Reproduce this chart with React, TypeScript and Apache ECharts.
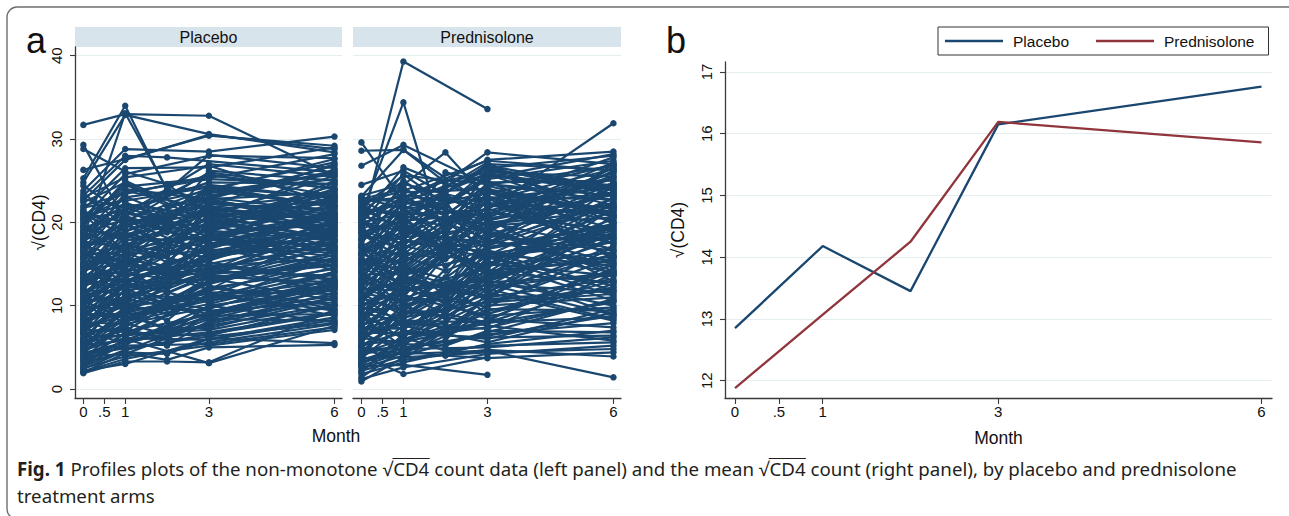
import React, { useEffect, useRef } from "react";
import * as echarts from "echarts";

// Visit months and axis ticks
const months = [0, 1, 2, 3, 6];
const monthTicks = [0, 0.5, 1, 3, 6];
const profileTicks = [0, 10, 20, 30, 40];
const meanTicks = [12, 13, 14, 15, 16, 17];
const armNames = ["Placebo", "Prednisolone"];

// Individual sqrt(CD4) profiles: values at months 0, 1, 2, 3, 6 (null = missed visit)
const placeboProfiles: (number | null)[][] = [
  [31.7, 33.0, null, 32.8, 25.6],
  [29.3, 20.2, null, 24.1, 22.0],
  [28.8, 26.1, 24.6, 21.0, 19.4],
  [26.3, 27.6, null, 30.4, 29.2],
  [25.3, 34.0, 23.8, 28.1, 26.5],
  [24.8, 32.9, null, 30.6, 28.4],
  [23.8, 28.8, null, 28.5, 30.3],
  [23.2, 28.0, 27.8, null, 26.0],
  [22.6, 27.5, null, 30.5, 28.8],
  [21.5, 26.5, null, 26.6, 29.0],
  [20.5, 25.8, null, 28.0, 27.7],
  [19.8, 24.3, null, 25.3, 28.2],
  [22.0, 23.4, 24.5, 25.6, 24.1],
  [18.2, 33.1, 24.0, 22.4, 21.0],
  [24.4, 21.0, null, 27.0, 25.5],
  [23.5, 19.5, null, 22.8, 26.8],
  [21.8, 22.6, null, 24.2, 23.0],
  [21.0, 18.4, 20.5, 23.5, 25.2],
  [20.8, 23.8, null, 21.6, 22.5],
  [20.2, 21.5, null, 24.8, 24.6],
  [19.5, 17.8, null, 20.3, 23.8],
  [19.0, 22.1, 21.0, 23.0, 21.2],
  [18.7, 20.4, null, 19.5, 22.7],
  [18.4, 16.5, null, 21.8, 20.1],
  [18.0, 19.6, null, 23.6, 25.8],
  [17.6, 21.8, null, 18.6, 19.8],
  [17.2, 15.8, 17.5, 20.6, 22.4],
  [16.9, 18.9, null, 22.2, 21.6],
  [16.5, 20.8, null, 17.4, 18.9],
  [16.1, 14.7, null, 19.2, 23.1],
  [15.8, 17.3, null, 21.1, 20.4],
  [15.5, 19.8, 16.8, 18.0, 17.2],
  [15.2, 16.2, null, 20.0, 24.4],
  [14.9, 13.6, null, 16.6, 18.3],
  [14.6, 18.0, null, 22.6, 19.6],
  [14.3, 15.1, null, 17.8, 21.4],
  [14.0, 17.6, 15.2, 19.7, 16.4],
  [13.7, 12.8, null, 15.9, 17.7],
  [13.4, 16.8, null, 18.4, 22.0],
  [13.1, 14.2, null, 14.8, 15.6],
  [12.8, 19.0, null, 21.4, 20.8],
  [12.5, 13.3, 12.0, 16.2, 18.6],
  [12.2, 15.6, null, 13.9, 16.9],
  [11.9, 11.4, null, 17.1, 19.1],
  [11.6, 14.9, null, 19.9, 17.9],
  [11.3, 12.1, null, 13.2, 15.0],
  [11.0, 16.0, 14.0, 15.4, 20.2],
  [10.7, 10.8, null, 14.1, 13.6],
  [10.4, 13.9, null, 12.6, 16.1],
  [10.1, 12.6, null, 16.8, 14.7],
  [9.8, 9.7, null, 11.8, 15.3],
  [9.5, 14.4, 11.5, 13.5, 12.8],
  [9.2, 11.0, null, 15.0, 18.0],
  [8.9, 8.6, null, 10.9, 12.2],
  [8.6, 12.4, null, 14.6, 11.6],
  [8.3, 10.2, 9.0, 12.1, 14.4],
  [8.0, 7.8, null, 9.8, 13.1],
  [7.7, 11.8, null, 13.3, 10.6],
  [7.4, 9.3, null, 11.1, 12.9],
  [7.1, 6.9, null, 8.9, 11.2],
  [6.8, 10.5, 8.2, 12.4, 9.6],
  [6.5, 8.1, null, 10.2, 13.8],
  [6.2, 6.4, null, 7.6, 10.1],
  [5.9, 9.1, null, 11.5, 8.8],
  [5.6, 7.2, 6.0, 9.0, 11.9],
  [5.3, 5.8, null, 6.8, 9.2],
  [5.0, 8.4, null, 10.6, 12.5],
  [4.7, 6.1, null, 5.9, 8.3],
  [4.4, 7.5, 5.2, 8.2, 10.8],
  [4.1, 4.9, null, 6.3, 7.9],
  [3.8, 6.6, null, 7.1, 9.9],
  [3.5, 5.2, null, 5.4, 7.4],
  [3.2, 4.4, 4.2, 6.0, 8.6],
  [2.8, 5.5, null, 7.8, 11.0],
  [2.5, 3.9, null, 5.2, 7.1],
  [2.2, 3.0, null, 6.1, 5.5],
  [2.0, 4.3, 3.5, 5.0, 5.3],
  [1.9, 3.3, 3.3, 3.2, 9.5],
  [3.0, 6.0, null, 3.1, 7.6],
  [21.2, 20.0, null, 26.0, 24.0],
  [20.0, 24.6, 22.0, 23.0, 26.2],
  [19.2, 18.2, null, 21.2, 19.0],
  [17.9, 23.1, null, 19.0, 21.9],
  [16.7, 15.0, null, 24.5, 22.9],
  [15.9, 20.3, null, 16.0, 18.5],
  [14.8, 16.9, 16.0, 21.7, 19.4],
  [13.9, 18.6, null, 17.0, 24.8],
  [12.9, 11.9, null, 18.8, 16.6],
  [12.0, 17.2, null, 15.8, 21.7],
  [11.1, 13.0, 12.8, 20.4, 17.0],
  [10.3, 15.3, null, 11.9, 19.5],
  [9.6, 10.4, null, 17.6, 15.9],
  [8.8, 13.6, null, 14.3, 17.4],
  [8.1, 11.2, null, 9.6, 14.1],
  [7.3, 8.9, 9.8, 13.0, 16.4],
  [6.6, 12.0, null, 8.4, 12.0],
  [5.8, 7.0, null, 12.8, 15.5],
  [5.1, 9.8, null, 9.4, 10.4],
  [4.3, 5.6, null, 8.6, 13.4],
  [3.6, 7.9, 6.5, 10.0, 8.0],
  [2.7, 4.7, null, 6.6, 9.0],
  [22.4, 24.8, null, 19.8, 23.4],
  [21.0, 16.4, null, 22.0, 27.0],
  [18.9, 21.2, 19.8, 26.2, 25.0],
  [17.4, 13.2, null, 20.9, 18.0],
  [16.3, 22.4, null, 18.2, 20.6],
  [15.0, 12.2, null, 23.2, 26.0],
  [14.1, 20.0, null, 14.4, 17.6],
  [13.3, 10.6, null, 16.4, 19.8],
  [12.6, 16.4, 14.5, 22.8, 23.6],
  [11.7, 9.4, null, 13.7, 12.4],
  [10.9, 17.9, null, 18.0, 15.2],
  [10.0, 8.0, null, 12.9, 17.2],
  [9.1, 15.8, 13.0, 17.3, 20.9],
  [8.4, 6.2, null, 11.4, 9.4],
  [7.6, 13.0, null, 15.6, 18.8],
  [6.9, 5.5, null, 9.2, 12.6],
  [6.0, 11.0, null, 13.8, 14.9],
  [5.4, 8.7, 7.4, 7.3, 10.9],
  [4.6, 10.0, null, 11.0, 14.6],
  [3.9, 4.2, null, 8.0, 11.5],
  [20.6, 22.2, null, 20.8, 25.6],
  [19.4, 20.8, null, 25.8, 23.2],
  [18.5, 24.0, null, 22.8, 20.0],
  [17.7, 17.0, 18.8, 19.6, 24.0],
  [17.0, 19.4, null, 23.8, 22.0],
  [16.4, 14.0, null, 18.4, 21.0],
  [15.6, 21.0, null, 20.8, 17.8],
  [15.1, 13.0, 14.8, 17.2, 20.6],
  [14.5, 16.0, null, 19.0, 23.8],
  [13.8, 19.6, null, 22.0, 18.6],
  [13.2, 12.2, null, 14.2, 20.4],
  [12.7, 15.2, 13.6, 18.2, 16.2],
  [12.1, 18.4, null, 16.4, 19.4],
  [11.5, 10.2, null, 15.6, 22.6],
  [10.8, 13.4, null, 18.6, 14.2],
  [10.2, 11.6, 10.8, 12.6, 18.4],
  [9.7, 16.6, null, 14.8, 13.2],
  [9.0, 9.0, null, 16.2, 16.8],
  [8.5, 12.8, null, 10.4, 15.8],
  [7.9, 10.0, null, 14.0, 19.2],
  [7.2, 12.6, 10.6, 11.6, 11.4],
  [6.7, 7.4, null, 13.4, 14.8],
  [6.1, 10.8, null, 9.0, 12.4],
  [5.5, 6.6, null, 11.2, 16.6],
  [4.9, 9.4, 7.0, 8.8, 9.0],
  [4.2, 5.3, null, 10.0, 12.0],
  [3.4, 6.8, null, 6.4, 10.2],
  [2.4, 4.6, null, 8.4, 8.2],
  [2.1, 3.6, null, 5.6, 7.8],
  [21.4, 19.0, null, 22.6, 20.6],
  [20.4, 23.0, null, 24.4, 21.8],
  [19.6, 25.0, null, 20.4, 26.4],
  [18.8, 16.8, null, 24.0, 27.2],
  [18.1, 21.4, null, 17.8, 23.0],
  [17.3, 18.6, 19.4, 22.0, 18.4],
  [16.6, 23.6, null, 25.2, 24.6],
  [15.7, 15.4, null, 16.8, 21.2],
  [14.7, 21.2, null, 18.8, 25.0],
  [13.6, 14.6, null, 20.6, 17.0],
  [12.4, 20.4, null, 17.4, 21.0],
  [11.4, 14.0, null, 21.8, 23.4],
  [10.6, 8.4, null, 13.0, 15.6],
  [9.4, 12.2, 12.4, 19.0, 17.8],
  [8.2, 14.8, null, 13.6, 20.0],
  [7.0, 9.6, null, 15.2, 13.0],
  [5.7, 11.4, null, 10.8, 14.0],
  [4.5, 8.0, null, 12.2, 10.0],
  [3.3, 5.9, null, 9.2, 12.8],
  [22.8, 21.8, null, 23.8, 27.6],
  [23.0, 25.4, null, 26.8, 22.2],
];

const prednisoloneProfiles: (number | null)[][] = [
  [19.5, 39.3, null, 33.6, null],
  [21.0, 34.4, 17.6, 16.2, 18.4],
  [29.6, 22.5, null, 25.8, 24.0],
  [28.6, 28.7, null, 22.0, 23.5],
  [26.8, 29.3, null, 24.5, 26.8],
  [24.5, 26.2, null, 20.5, 22.0],
  [22.0, 24.5, 28.4, 22.8, 24.6],
  [20.0, 21.0, null, 21.5, 31.9],
  [23.1, 28.7, 24.8, 28.4, 27.0],
  [22.5, 23.0, null, 27.5, 28.5],
  [21.8, 20.6, null, 26.5, 28.0],
  [20.8, 22.8, 25.0, 26.0, 25.5],
  [22.8, 24.0, null, 19.0, 26.6],
  [21.4, 17.0, 23.5, 27.0, 26.3],
  [20.4, 23.6, null, 24.0, 21.2],
  [19.8, 19.0, 22.0, 25.2, 27.4],
  [19.1, 22.0, null, 18.0, 24.8],
  [18.6, 15.6, null, 23.0, 20.2],
  [18.0, 20.8, 19.5, 21.8, 25.9],
  [17.5, 23.3, null, 16.8, 19.6],
  [17.0, 14.8, null, 20.2, 23.3],
  [16.6, 18.4, 20.8, 24.6, 22.6],
  [16.2, 21.4, null, 15.6, 18.2],
  [15.7, 13.4, null, 19.2, 26.2],
  [15.3, 17.6, null, 22.4, 17.5],
  [14.9, 19.8, 16.5, 14.6, 21.6],
  [14.5, 12.6, null, 18.4, 16.6],
  [14.1, 16.8, null, 23.8, 20.9],
  [13.7, 14.0, 17.8, 13.8, 15.9],
  [13.3, 18.8, null, 17.6, 24.2],
  [12.9, 11.8, null, 21.2, 19.0],
  [12.5, 15.9, 14.2, 16.2, 14.8],
  [12.1, 10.6, null, 12.9, 17.8],
  [11.7, 17.0, null, 19.9, 22.2],
  [11.3, 13.2, 12.0, 15.0, 13.6],
  [10.9, 9.6, null, 17.0, 18.6],
  [10.5, 14.6, null, 11.8, 16.2],
  [10.1, 11.6, 13.4, 20.4, 12.9],
  [9.7, 8.4, null, 14.2, 15.4],
  [9.3, 13.6, null, 10.8, 20.0],
  [8.9, 10.2, 10.8, 16.6, 11.8],
  [8.5, 7.2, null, 12.2, 14.0],
  [8.1, 12.4, null, 9.8, 17.0],
  [7.7, 9.0, 9.6, 15.4, 10.6],
  [7.3, 6.4, null, 11.0, 13.2],
  [6.9, 11.2, null, 8.8, 9.8],
  [6.5, 8.0, 7.8, 13.6, 16.0],
  [6.1, 5.6, null, 7.9, 10.4],
  [5.7, 10.0, null, 12.6, 8.9],
  [5.3, 6.8, 6.4, 9.4, 12.2],
  [4.9, 4.8, null, 6.6, 7.9],
  [4.5, 8.6, null, 10.4, 11.4],
  [4.1, 5.4, 5.2, 7.0, 6.8],
  [3.7, 7.6, null, 5.6, 9.2],
  [3.3, 4.3, null, 8.4, 7.4],
  [0.9, 3.8, null, 4.4, 4.8],
  [1.4, 4.8, null, 5.0, 6.2],
  [4.0, 1.8, null, 3.8, null],
  [2.7, 2.9, null, 1.7, null],
  [5.0, 4.2, null, 4.6, 1.4],
  [3.2, 4.5, 4.0, 3.7, 4.4],
  [2.2, 3.5, null, 4.7, 3.9],
  [2.9, 6.2, 4.6, 5.2, 5.6],
  [22.2, 18.6, null, 25.6, 23.8],
  [21.2, 25.0, 21.6, 19.6, 20.6],
  [20.2, 16.2, null, 23.4, 26.9],
  [19.3, 24.2, null, 17.6, 22.4],
  [18.3, 18.0, 24.2, 27.2, 19.8],
  [17.3, 12.0, null, 21.0, 25.2],
  [16.4, 22.6, null, 19.0, 15.2],
  [15.5, 15.2, 18.6, 26.4, 23.9],
  [14.7, 20.6, null, 13.0, 18.8],
  [13.9, 10.0, null, 22.0, 21.0],
  [13.1, 16.4, 15.6, 18.8, 14.2],
  [12.3, 19.4, null, 14.0, 23.0],
  [11.5, 8.8, null, 16.0, 19.4],
  [10.7, 15.0, 11.2, 21.6, 17.4],
  [9.9, 12.0, null, 13.2, 24.4],
  [9.1, 6.0, null, 18.0, 14.6],
  [8.3, 14.2, 12.6, 9.0, 13.0],
  [7.5, 10.8, null, 14.8, 20.4],
  [6.7, 4.6, null, 10.0, 11.0],
  [5.9, 9.4, 8.6, 12.0, 18.2],
  [5.1, 7.0, null, 6.0, 9.6],
  [4.3, 6.0, null, 9.0, 14.4],
  [3.5, 5.0, 5.8, 11.6, 8.2],
  [2.5, 4.0, null, 6.8, 10.8],
  [1.8, 3.2, null, 5.4, 7.0],
  [23.0, 21.6, null, 23.0, 22.8],
  [21.6, 19.2, 26.0, 24.8, 25.0],
  [20.6, 26.6, null, 22.6, 27.8],
  [19.6, 13.6, null, 20.0, 16.8],
  [18.8, 20.2, null, 26.8, 24.2],
  [17.8, 24.8, 22.6, 15.0, 21.4],
  [16.9, 11.0, null, 22.8, 18.0],
  [16.0, 19.0, null, 17.2, 27.0],
  [15.1, 14.4, 20.0, 24.2, 15.6],
  [14.3, 21.8, null, 12.4, 20.0],
  [13.5, 9.2, null, 19.6, 23.6],
  [12.7, 17.8, null, 15.8, 12.4],
  [11.9, 12.8, 16.2, 25.0, 18.0],
  [11.1, 7.6, null, 11.4, 21.8],
  [10.3, 16.0, null, 17.8, 15.0],
  [9.5, 11.4, 9.0, 8.0, 12.6],
  [8.7, 5.0, null, 15.8, 17.6],
  [7.9, 12.8, null, 12.0, 8.4],
  [7.1, 8.8, 11.6, 17.2, 22.0],
  [6.3, 7.8, null, 7.2, 13.8],
  [5.5, 11.8, null, 13.0, 10.0],
  [4.7, 3.6, 7.0, 8.2, 15.0],
  [3.9, 9.8, null, 7.6, 5.8],
  [3.0, 5.8, null, 10.6, 12.0],
  [22.6, 20.2, null, 21.0, 26.0],
  [21.9, 25.6, null, 24.6, 23.2],
  [21.1, 22.2, 23.0, 20.8, 27.2],
  [20.3, 18.0, null, 26.2, 24.4],
  [19.5, 23.2, null, 22.0, 21.8],
  [18.7, 16.6, 20.4, 18.8, 26.6],
  [17.9, 21.6, null, 25.8, 20.6],
  [17.1, 19.6, null, 16.0, 23.0],
  [16.3, 13.8, 17.0, 23.6, 19.2],
  [15.6, 22.4, null, 20.6, 25.6],
  [14.8, 17.2, null, 14.8, 16.4],
  [14.0, 11.2, null, 21.4, 24.6],
  [13.2, 20.8, 14.8, 17.0, 19.8],
  [12.4, 14.2, null, 23.2, 15.8],
  [11.6, 10.4, null, 13.6, 22.4],
  [10.8, 18.2, null, 19.4, 13.8],
  [10.0, 13.0, 10.2, 15.6, 19.0],
  [9.2, 8.0, null, 12.6, 11.6],
  [8.4, 15.6, null, 17.4, 22.8],
  [7.6, 11.0, null, 10.2, 15.8],
  [6.8, 6.6, 9.2, 14.0, 12.8],
  [6.0, 13.4, null, 11.2, 17.2],
  [5.2, 8.2, null, 8.0, 8.6],
  [4.4, 5.2, null, 12.8, 13.6],
  [3.6, 10.4, 6.8, 7.4, 10.6],
  [2.8, 4.4, null, 9.6, 9.4],
  [2.0, 6.6, null, 6.2, 6.4],
  [1.2, 2.6, null, 4.2, 5.2],
  [22.4, 23.8, null, 27.4, 26.2],
  [21.5, 21.2, null, 23.6, 21.6],
  [20.7, 19.8, 22.4, 25.4, 28.2],
  [19.9, 25.8, null, 18.4, 23.6],
  [19.0, 17.4, null, 24.4, 20.8],
  [18.1, 22.8, null, 20.2, 25.4],
  [17.2, 15.0, 19.2, 26.0, 22.0],
  [16.1, 20.0, null, 13.6, 19.4],
  [15.2, 12.4, null, 22.6, 26.4],
  [14.2, 18.0, 16.8, 16.6, 14.0],
  [13.0, 21.2, null, 19.8, 21.4],
  [12.0, 11.8, null, 14.6, 24.8],
  [10.6, 16.8, null, 22.4, 16.6],
  [9.6, 9.6, 11.8, 11.0, 20.8],
  [8.6, 14.0, null, 16.0, 11.2],
  [7.4, 7.2, null, 13.2, 18.6],
  [6.4, 12.2, null, 8.4, 14.2],
  [5.4, 5.8, 7.2, 10.8, 11.8],
  [4.2, 9.0, null, 14.2, 9.0],
  [3.1, 4.9, null, 6.4, 8.8],
  [23.2, 24.6, null, 22.2, 24.2],
  [22.9, 22.4, 24.4, 26.6, 23.4],
];

// Mean sqrt(CD4) by arm at months 0, 1, 2, 3, 6
const meanPlacebo = [12.85, 14.18, 13.45, 16.15, 16.76];
const meanPrednisolone = [11.88, 13.07, 14.25, 16.19, 15.86];

// Caption pieces; "over" pieces get a radical vinculum
const captionLine1 = [
  { text: "Fig. 1", bold: true, over: false },
  { text: " Profiles plots of the non-monotone √", bold: false, over: false },
  { text: "CD4", bold: false, over: true },
  { text: " count data (left panel) and the mean √", bold: false, over: false },
  { text: "CD4", bold: false, over: true },
  { text: " count (right panel), by placebo and prednisolone", bold: false, over: false },
];
const captionLine2 = "treatment arms";

const NAVY = "#1a476f";
const MAROON = "#90353b";
const GRID = "#e4edf0";
const STRIP = "#d8e4eb";
const AXIS = "#3a3a3a";
const SANS = '"Liberation Sans", Arial, sans-serif';
const CAPTION_FONT = '"Noto Sans", "Open Sans", sans-serif';

const monthLabel = (v: number) => (v === 0.5 ? ".5" : String(v));

function xAxisFor(gridIndex: number, min: number, max: number, extra: any = {}) {
  return {
    type: "value",
    gridIndex,
    min,
    max,
    axisLine: { show: true, onZero: false, lineStyle: { color: AXIS, width: 1.3 } },
    axisTick: { show: true, length: 6, customValues: monthTicks, lineStyle: { color: AXIS, width: 1.1 } },
    axisLabel: {
      customValues: monthTicks,
      formatter: monthLabel,
      fontSize: 15,
      fontFamily: SANS,
      color: "#111",
      margin: 6,
    },
    splitLine: { show: false },
    ...extra,
  };
}

function yAxisFor(gridIndex: number, min: number, max: number, ticks: number[], showAxis: boolean, extra: any = {}) {
  return {
    type: "value",
    gridIndex,
    min,
    max,
    axisLine: { show: showAxis, onZero: false, lineStyle: { color: AXIS, width: 1.3 } },
    axisTick: { show: showAxis, length: 5, customValues: ticks, lineStyle: { color: AXIS, width: 1.1 } },
    axisLabel: {
      show: showAxis,
      customValues: ticks,
      rotate: 90,
      fontSize: 15,
      fontFamily: SANS,
      color: "#111",
      margin: 11,
    },
    splitLine: { show: true, lineStyle: { color: GRID, width: 1.2 } },
    ...extra,
  };
}

function profileSeries(rows: (number | null)[][], axisIndex: number, prefix: string) {
  return rows.map((row, k) => ({
    name: `${prefix}-${k}`,
    type: "line",
    xAxisIndex: axisIndex,
    yAxisIndex: axisIndex,
    data: months.flatMap((m, i) => (row[i] == null ? [] : [[m, row[i]]])),
    symbol: "circle",
    symbolSize: 6.5,
    lineStyle: { color: NAVY, width: 2.2 },
    itemStyle: { color: NAVY },
    silent: true,
    z: 2,
  }));
}

function buildCaption() {
  const size = 19;
  const canvas = document.createElement("canvas");
  const ctx = canvas.getContext("2d")!;
  const measure = (t: string, bold: boolean) => {
    ctx.font = `${bold ? "bold " : ""}${size}px ${CAPTION_FONT}`;
    return ctx.measureText(t).width;
  };
  const children: any[] = [];
  let x = 0;
  const y1 = 469;
  const y2 = 496;
  captionLine1.forEach((p) => {
    const w = measure(p.text, p.bold);
    children.push({
      type: "text",
      x,
      y: y1,
      style: {
        text: p.text,
        fontSize: size,
        fontFamily: CAPTION_FONT,
        fontWeight: p.bold ? "bold" : "normal",
        fill: "#231f20",
        verticalAlign: "middle",
      },
    });
    if (p.over) {
      children.push({
        type: "line",
        shape: { x1: x - 0.5, y1: 458.5, x2: x + w + 0.5, y2: 458.5 },
        style: { stroke: "#231f20", lineWidth: 1.1 },
      });
    }
    x += w;
  });
  children.push({
    type: "text",
    x: 0,
    y: y2,
    style: {
      text: captionLine2,
      fontSize: size,
      fontFamily: CAPTION_FONT,
      fill: "#231f20",
      verticalAlign: "middle",
    },
  });
  const scale = 1220 / x;
  return { type: "group", x: 17, y: 0, scaleX: scale, children };
}

export default function App() {
  const ref = useRef<HTMLDivElement>(null);

  useEffect(() => {
    if (!ref.current) return;
    const chart = echarts.init(ref.current, undefined, { renderer: "svg" });

    const option: any = {
      animation: false,
      backgroundColor: "#ffffff",
      grid: [
        { left: 75, top: 47, width: 267, height: 351 },
        { left: 353, top: 47, width: 268, height: 351 },
        { left: 725, top: 62, width: 547, height: 336 },
      ],
      xAxis: [
        xAxisFor(0, -0.2, 6.18),
        xAxisFor(1, -0.2, 6.18),
        xAxisFor(2, -0.114, 6.12, {
          name: "Month",
          nameLocation: "middle",
          nameGap: 31,
          nameTextStyle: { fontSize: 17.5, fontFamily: SANS, color: "#111" },
        }),
      ],
      yAxis: [
        yAxisFor(0, -1.08, 41.05, profileTicks, true, {
          name: "√(CD4)",
          nameLocation: "middle",
          nameGap: 27,
          nameRotate: 90,
          nameTextStyle: { fontSize: 17.5, fontFamily: SANS, color: "#111" },
        }),
        yAxisFor(1, -1.08, 41.05, profileTicks, false),
        yAxisFor(2, 11.72, 17.16, meanTicks, true, {
          name: "√(CD4)",
          nameLocation: "middle",
          nameGap: 38,
          nameRotate: 90,
          nameTextStyle: { fontSize: 17.5, fontFamily: SANS, color: "#111" },
        }),
      ],
      legend: {
        data: armNames,
        left: 938,
        top: 27,
        orient: "horizontal",
        icon: "rect",
        itemWidth: 58,
        itemHeight: 2.4,
        itemGap: 27,
        borderColor: "#333",
        borderWidth: 1,
        padding: [6, 14, 6, 7],
        selectedMode: false,
        textStyle: { fontSize: 15.5, fontFamily: SANS, color: "#111", padding: [0, 0, 0, 5] },
      },
      series: [
        ...profileSeries(placeboProfiles, 0, "placebo"),
        ...profileSeries(prednisoloneProfiles, 1, "prednisolone"),
        {
          name: armNames[0],
          type: "line",
          xAxisIndex: 2,
          yAxisIndex: 2,
          data: months.map((m, i) => [m, meanPlacebo[i]]),
          showSymbol: false,
          symbol: "none",
          lineStyle: { color: NAVY, width: 2.3 },
          itemStyle: { color: NAVY },
          z: 3,
        },
        {
          name: armNames[1],
          type: "line",
          xAxisIndex: 2,
          yAxisIndex: 2,
          data: months.map((m, i) => [m, meanPrednisolone[i]]),
          showSymbol: false,
          symbol: "none",
          lineStyle: { color: MAROON, width: 2.3 },
          itemStyle: { color: MAROON },
          z: 3,
        },
      ],
      graphic: [
        {
          type: "rect",
          shape: { x: 7, y: 7, width: 1300, height: 512, r: 10 },
          style: { fill: "none", stroke: "#6d6e71", lineWidth: 1.4 },
          silent: true,
        },
        {
          type: "rect",
          shape: { x: 75, y: 27, width: 267, height: 20 },
          style: { fill: STRIP },
        },
        {
          type: "rect",
          shape: { x: 353, y: 27, width: 268, height: 20 },
          style: { fill: STRIP },
        },
        {
          type: "text",
          x: 208.5,
          y: 37,
          style: { text: armNames[0], fontSize: 16, fontFamily: SANS, fill: "#111", align: "center", verticalAlign: "middle" },
        },
        {
          type: "text",
          x: 487,
          y: 37,
          style: { text: armNames[1], fontSize: 16, fontFamily: SANS, fill: "#111", align: "center", verticalAlign: "middle" },
        },
        {
          type: "text",
          x: 336,
          y: 436,
          style: { text: "Month", fontSize: 17.5, fontFamily: SANS, fill: "#111", align: "center", verticalAlign: "middle" },
        },
        {
          type: "text",
          x: 26,
          y: 40,
          style: { text: "a", fontSize: 36, fontFamily: SANS, fill: "#111", verticalAlign: "middle" },
        },
        {
          type: "text",
          x: 666,
          y: 40,
          style: { text: "b", fontSize: 36, fontFamily: SANS, fill: "#111", verticalAlign: "middle" },
        },
        buildCaption(),
      ],
    };

    chart.setOption(option);
    return () => chart.dispose();
  }, []);

  return (
    <div
      ref={ref}
      style={{ position: "absolute", left: 0, top: 0, width: 1289, height: 516, background: "#fff" }}
    />
  );
}
